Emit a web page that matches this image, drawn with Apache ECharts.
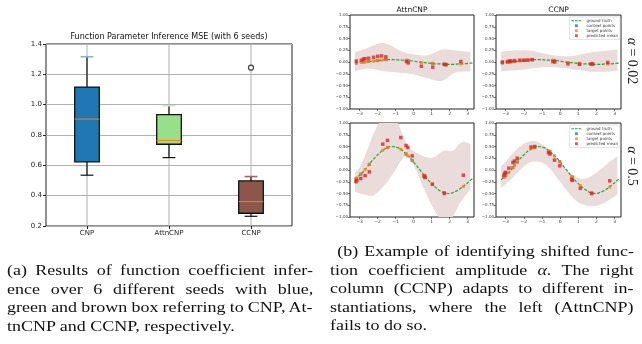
<!DOCTYPE html>
<html>
<head>
<meta charset="utf-8">
<script src="https://cdn.jsdelivr.net/npm/echarts@6.0.0/dist/echarts.min.js"></script>
<style>
  html, body { margin: 0; padding: 0; background: #fff; }
  #wrap { position: relative; width: 642px; height: 344px; overflow: hidden; }
  #chart { position: absolute; left: 0; top: 0; width: 642px; height: 344px; }
  .cap { position: absolute; font-family: 'Liberation Serif', 'Times New Roman', serif;
         font-size: 15px; line-height: 18.5px; color: #111;
         transform: scaleX(1.2); transform-origin: 0 0; }
  .cap div { white-space: nowrap; }
</style>
</head>
<body>
<div id="wrap">
  <div id="chart"></div>
  <div class="cap" style="left:7px; top:261px; width:255px;">
    <div class="j"><span>(a) Results of function coefficient infer-</span></div>
    <div class="j"><span>ence over 6 different seeds with blue,</span></div>
    <div class="j"><span>green and brown box referring to CNP, At-</span></div>
    <div><span>tnCNP and CCNP, respectively.</span></div>
  </div>
  <div class="cap" style="left:330px; top:242px; width:252.5px;">
    <div class="j" data-indent="6"><span>(b) Example of identifying shifted func-</span></div>
    <div class="j"><span>tion coefficient amplitude <i>α</i>.  The right</span></div>
    <div class="j"><span>column (CCNP) adapts to different in-</span></div>
    <div class="j"><span>stantiations, where the left (AttnCNP)</span></div>
    <div><span>fails to do so.</span></div>
  </div>
</div>
<script>
// ---------- (a) box plot data ----------
const categories = ['CNP', 'AttnCNP', 'CCNP'];
const whiskerLow = [0.535, 0.651, 0.264];
const q1 = [0.623, 0.739, 0.284];
const median = [0.905, 0.764, 0.361];
const q3 = [1.116, 0.935, 0.497];
const whiskerHigh = [1.316, 0.993, 0.526];
const outliers = [[2, 1.244]];

const boxColors = ['#1f77b4', '#98df8a', '#8c564b'];
const capColors = ['#7fb3db', '#c2ebb8', '#a9625a'];

// ---------- (b) curves data ----------
const gtX = [-3.25, -3, -2.75, -2.5, -2.25, -2, -1.75, -1.5, -1.25, -1, -0.75, -0.5, -0.25, 0,
             0.25, 0.5, 0.75, 1, 1.25, 1.5, 1.75, 2, 2.25, 2.5, 2.75, 3, 3.3];
const gtSmall = [-0.02, -0.01, 0.0, 0.01, 0.02, 0.03, 0.04, 0.05, 0.05, 0.05, 0.04, 0.04, 0.03, 0.02,
                 0.0, -0.01, -0.02, -0.03, -0.04, -0.04, -0.05, -0.05, -0.05, -0.04, -0.04, -0.03, -0.02];
const gtLarge = [-0.21, -0.11, -0.02, 0.10, 0.22, 0.32, 0.41, 0.47, 0.50, 0.49, 0.45, 0.37, 0.28, 0.17,
                 0.05, -0.07, -0.19, -0.29, -0.38, -0.45, -0.49, -0.50, -0.47, -0.42, -0.35, -0.27, -0.17];

const bandX = [-3.25, -3, -2.75, -2.5, -2.25, -2, -1.75, -1.5, -1.25, -1, -0.75, -0.5, -0.25, 0,
               0.25, 0.5, 0.75, 1, 1.25, 1.5, 1.75, 2, 2.25, 2.5, 2.75, 3, 3.15];
const upperAttnSmall = [0.22, 0.24, 0.27, 0.31, 0.35, 0.39, 0.41, 0.39, 0.35, 0.29, 0.24, 0.20, 0.18, 0.16,
                        0.15, 0.14, 0.14, 0.17, 0.22, 0.26, 0.27, 0.26, 0.25, 0.24, 0.23, 0.22, 0.22];
const lowerAttnSmall = [-0.20, -0.17, -0.15, -0.14, -0.15, -0.17, -0.19, -0.20, -0.21, -0.22, -0.23, -0.24, -0.25, -0.26,
                        -0.29, -0.32, -0.34, -0.37, -0.40, -0.41, -0.37, -0.30, -0.23, -0.21, -0.20, -0.20, -0.20];
const upperCcnpSmall = [0.22, 0.23, 0.24, 0.25, 0.25, 0.25, 0.25, 0.24, 0.21, 0.19, 0.17, 0.15, 0.14, 0.13,
                        0.12, 0.12, 0.13, 0.15, 0.17, 0.19, 0.21, 0.22, 0.23, 0.24, 0.25, 0.26, 0.27];
const lowerCcnpSmall = [-0.20, -0.19, -0.18, -0.18, -0.17, -0.16, -0.15, -0.13, -0.12, -0.11, -0.11, -0.11, -0.11, -0.12,
                        -0.13, -0.14, -0.16, -0.17, -0.18, -0.20, -0.21, -0.21, -0.21, -0.21, -0.20, -0.19, -0.19];
const upperAttnLarge = [-0.06, 0.05, 0.25, 0.50, 0.75, 0.95, 1.10, 1.20, 1.20, 1.10, 0.90, 0.65, 0.47, 0.40,
                        0.35, 0.30, 0.27, 0.25, 0.30, 0.38, 0.42, 0.40, 0.42, 0.55, 0.60, 0.58, 0.55];
const lowerAttnLarge = [-0.47, -0.50, -0.52, -0.55, -0.55, -0.48, -0.38, -0.27, -0.14, 0.00, 0.17, 0.30, 0.25, 0.10,
                        -0.10, -0.35, -0.55, -0.75, -0.92, -1.05, -1.10, -1.08, -0.95, -0.75, -0.60, -0.48, -0.42];
const upperCcnpLarge = [0.08, 0.17, 0.29, 0.40, 0.50, 0.56, 0.60, 0.62, 0.60, 0.55, 0.49, 0.40, 0.30, 0.18,
                        0.05, -0.05, -0.12, -0.17, -0.19, -0.17, -0.12, -0.06, 0.02, 0.10, 0.18, 0.25, 0.29];
const lowerCcnpLarge = [-0.38, -0.30, -0.22, -0.12, -0.02, 0.08, 0.15, 0.18, 0.18, 0.16, 0.10, 0.00, -0.12, -0.25,
                        -0.38, -0.50, -0.61, -0.69, -0.74, -0.76, -0.77, -0.76, -0.73, -0.68, -0.62, -0.56, -0.52];

// target / predicted points (x shared per panel)
const ptXSmall = [-3.18, -2.9, -2.78, -2.7, -2.5, -2.22, -1.99, -1.78, -1.54, -0.4, -0.3, 0.43, 1.06, 1.7, 1.79, 2.62];
const targetYSmall = [-0.02, -0.01, 0.0, 0.0, 0.01, 0.02, 0.03, 0.04, 0.05, 0.04, 0.03, -0.01, -0.03, -0.05, -0.05, -0.04];
const meanYAttnSmall = [0.02, 0.04, 0.06, 0.07, 0.08, 0.10, 0.12, 0.13, 0.11, 0.01, -0.02, -0.09, -0.11, -0.05, -0.06, 0.01];
const meanYCcnpSmall = [0.0, 0.01, 0.02, 0.02, 0.03, 0.04, 0.04, 0.04, 0.05, 0.01, 0.0, -0.04, -0.05, -0.04, -0.04, -0.01];

const ptXAttnLarge = [-3.2, -3.15, -2.93, -2.69, -2.46, -1.71, -1.45, -0.71, -0.42, -0.32, -0.08, 0.58, 0.63, 1.04, 1.70, 2.76];
const targetYAttnLarge = [-0.19, -0.17, -0.09, 0.01, 0.12, 0.42, 0.48, 0.44, 0.34, 0.30, 0.20, -0.11, -0.13, -0.31, -0.48, -0.35];
const meanYAttnLarge = [-0.25, -0.22, -0.18, -0.12, -0.04, 0.55, 0.63, 0.69, 0.52, 0.48, 0.30, -0.13, -0.16, -0.30, -0.50, -0.11];

const ptXCcnpLarge = [-3.09, -3.04, -3.0, -2.82, -2.6, -2.51, -2.36, -1.6, -1.4, -0.64, -0.56, -0.31, -0.02, 0.64, 0.67, 1.11, 1.73, 2.73];
const targetYCcnpLarge = [-0.15, -0.13, -0.11, -0.05, 0.05, 0.10, 0.17, 0.45, 0.48, 0.41, 0.39, 0.30, 0.18, -0.14, -0.15, -0.33, -0.49, -0.36];
const meanYCcnpLarge = [-0.11, -0.07, -0.05, 0.04, 0.16, 0.19, 0.25, 0.49, 0.50, 0.37, 0.34, 0.21, 0.09, -0.20, -0.22, -0.39, -0.50, -0.23];

const panels = [
  { gt: gtSmall, up: upperAttnSmall, lo: lowerAttnSmall, px: ptXSmall, ty: targetYSmall, my: meanYAttnSmall },
  { gt: gtSmall, up: upperCcnpSmall, lo: lowerCcnpSmall, px: ptXSmall, ty: targetYSmall, my: meanYCcnpSmall },
  { gt: gtLarge, up: upperAttnLarge, lo: lowerAttnLarge, px: ptXAttnLarge, ty: targetYAttnLarge, my: meanYAttnLarge },
  { gt: gtLarge, up: upperCcnpLarge, lo: lowerCcnpLarge, px: ptXCcnpLarge, ty: targetYCcnpLarge, my: meanYCcnpLarge }
];

const zip = (xs, ys) => xs.map((x, i) => [x, ys[i]]);
const minus = (v, d) => (v < 0 ? '\u2212' : '') + Math.abs(v).toFixed(d);

// ---------- layout ----------
const grids = [
  { left: 46, top: 44, width: 246, height: 182 },
  { left: 350, top: 15, width: 124, height: 94 },
  { left: 496, top: 15, width: 125, height: 94 },
  { left: 350, top: 123, width: 124, height: 94 },
  { left: 496, top: 123, width: 125, height: 94 }
].map(g => Object.assign(g, { show: true, borderColor: '#222', borderWidth: 1, backgroundColor: 'transparent' }));

const noLine = { show: false, onZero: false };
const xAxes = [{
  type: 'category', gridIndex: 0, data: categories,
  axisLine: noLine,
  axisTick: { show: true, alignWithLabel: true, length: 3, lineStyle: { color: '#222' } },
  axisLabel: { fontSize: 7, color: '#222', margin: 4, fontFamily: 'DejaVu Sans' },
  splitLine: { show: false }
}];
const yAxes = [{
  type: 'value', gridIndex: 0, min: 0.2, max: 1.4, interval: 0.2,
  axisLine: noLine,
  axisTick: { show: true, length: 3, lineStyle: { color: '#222' } },
  axisLabel: { fontSize: 7, color: '#222', margin: 4, fontFamily: 'DejaVu Sans', formatter: v => v.toFixed(1) },
  splitLine: { show: true, lineStyle: { color: '#b0b0b0', width: 1 } }
}];
for (let i = 1; i <= 4; i++) {
  xAxes.push({
    type: 'value', gridIndex: i, min: -3.53, max: 3.35, splitNumber: 7, position: 'bottom',
    axisLine: noLine,
    axisTick: { length: 2, lineStyle: { color: '#222', width: 0.6 } },
    axisLabel: { fontSize: 4.5, color: '#333', margin: 2.5, fontFamily: 'DejaVu Sans',
                 showMinLabel: false, showMaxLabel: false, formatter: v => minus(v, 0) },
    splitLine: { show: false }
  });
  yAxes.push({
    type: 'value', gridIndex: i, min: -1, max: 1, interval: 0.25, position: 'left',
    axisLine: noLine,
    axisTick: { length: 2, lineStyle: { color: '#222', width: 0.6 } },
    axisLabel: { fontSize: 4, color: '#333', margin: 2, fontFamily: 'DejaVu Sans', formatter: v => minus(v, 2) },
    splitLine: { show: false }
  });
}

// ---------- box plot (custom) ----------
function renderBox(params, api) {
  const i = api.value(0);
  const cs = params.coordSys;
  const x = api.coord([i, 0.8])[0];
  const hw = api.size([1, 0])[0] * 0.15;
  const cw = hw * 0.52;
  const yLo = api.coord([i, api.value(1)])[1];
  const yQ1 = api.coord([i, api.value(2)])[1];
  const yMed = api.coord([i, api.value(3)])[1];
  const yQ3 = api.coord([i, api.value(4)])[1];
  const yHi = api.coord([i, api.value(5)])[1];
  const ink = '#111';
  return {
    type: 'group',
    children: [
      { type: 'line', shape: { x1: x, y1: cs.y, x2: x, y2: cs.y + cs.height }, style: { stroke: '#b0b0b0', lineWidth: 1 } },
      { type: 'line', shape: { x1: x, y1: yLo, x2: x, y2: yQ1 }, style: { stroke: ink, lineWidth: 1.2 } },
      { type: 'line', shape: { x1: x, y1: yQ3, x2: x, y2: yHi }, style: { stroke: ink, lineWidth: 1.2 } },
      { type: 'line', shape: { x1: x - cw, y1: yLo, x2: x + cw, y2: yLo }, style: { stroke: ink, lineWidth: 1.2 } },
      { type: 'line', shape: { x1: x - cw, y1: yHi, x2: x + cw, y2: yHi }, style: { stroke: capColors[i], lineWidth: 1.6 } },
      { type: 'rect', shape: { x: x - hw, y: yQ3, width: hw * 2, height: yQ1 - yQ3 },
        style: { fill: boxColors[i], stroke: ink, lineWidth: 1.3 } },
      { type: 'line', shape: { x1: x - hw, y1: yMed, x2: x + hw, y2: yMed }, style: { stroke: '#ff7f0e', lineWidth: 1 } }
    ]
  };
}

// uncertainty band: polygon along upper edge, back along lower edge
function bandRenderer(p) {
  return function (params, api) {
    const pts = bandX.map((x, i) => api.coord([x, p.up[i]]));
    for (let i = bandX.length - 1; i >= 0; i--) pts.push(api.coord([bandX[i], p.lo[i]]));
    return { type: 'polygon', shape: { points: pts }, style: { fill: '#e9dcda' } };
  };
}

const series = [
  {
    type: 'custom', xAxisIndex: 0, yAxisIndex: 0, renderItem: renderBox,
    encode: { x: 0, y: [1, 2, 3, 4, 5] },
    data: categories.map((c, i) => [i, whiskerLow[i], q1[i], median[i], q3[i], whiskerHigh[i]]),
    silent: true, z: 2
  },
  {
    type: 'scatter', xAxisIndex: 0, yAxisIndex: 0, data: outliers,
    symbol: 'circle', symbolSize: 5,
    itemStyle: { color: '#fff', borderColor: '#111', borderWidth: 1.2 }, silent: true, z: 3
  }
];

panels.forEach((p, k) => {
  const ax = k + 1;
  series.push({
    type: 'custom', xAxisIndex: ax, yAxisIndex: ax, renderItem: bandRenderer(p),
    data: [[0, 0]], encode: { x: 0, y: 1 }, clip: true, silent: true, z: 1
  });
  series.push({
    name: 'ground truth', type: 'line', xAxisIndex: ax, yAxisIndex: ax, data: zip(gtX, p.gt),
    symbol: 'none', smooth: 0.3, lineStyle: { color: '#2ca02c', width: 1.2, type: [3, 1.6] },
    itemStyle: { color: '#2ca02c' }, silent: true, z: 3
  });
  series.push({
    name: 'context points', type: 'scatter', xAxisIndex: ax, yAxisIndex: ax,
    data: zip(p.px, p.ty).filter((d, i) => i % 2 === 0),
    symbol: 'rect', symbolSize: 3, itemStyle: { color: '#1f77b4' }, silent: true, z: 4
  });
  series.push({
    name: 'target points', type: 'scatter', xAxisIndex: ax, yAxisIndex: ax, data: zip(p.px, p.ty),
    symbol: 'rect', symbolSize: 3, itemStyle: { color: '#ff7f0e' }, silent: true, z: 5
  });
  series.push({
    name: 'predicted mean', type: 'scatter', xAxisIndex: ax, yAxisIndex: ax, data: zip(p.px, p.my),
    symbol: 'rect', symbolSize: 3.5, itemStyle: { color: '#d62728' }, silent: true, z: 6
  });
});

// legend handles: dashed line for the curve, small centred square for markers
const dashIcon = 'path://M0,1.5h2.6v1h-2.6z M3.6,1.5h2.6v1h-2.6z M7.2,1.5h2.6v1h-2.6z M0,0 M10,4';
const dotIcon = 'path://M3.6,0.6h2.8v2.8h-2.8z M0,0 M10,4';
const legendData = [
  { name: 'ground truth', icon: dashIcon },
  { name: 'context points', icon: dotIcon },
  { name: 'target points', icon: dotIcon },
  { name: 'predicted mean', icon: dotIcon }
];
const legendBase = {
  orient: 'vertical', right: 22, data: legendData, selectedMode: false,
  itemWidth: 10, itemHeight: 4, itemGap: 0.6, padding: [1.5, 2],
  backgroundColor: '#fff', borderColor: '#cccccc', borderWidth: 0.6, borderRadius: 1.5,
  textStyle: { fontSize: 4, color: '#333', fontFamily: 'DejaVu Sans', lineHeight: 4.4 }
};

const serifText = (text, x, y) => ({
  type: 'text', x: x, y: y, rotation: -Math.PI / 2,
  style: {
    text: text, fill: '#222', font: '14px "Liberation Serif"',
    align: 'center', verticalAlign: 'middle', textAlign: 'center', textVerticalAlign: 'middle',
    rich: { i: { fontStyle: 'italic', fontSize: 14, fontFamily: 'Liberation Serif' },
            n: { fontSize: 14, fontFamily: 'Liberation Serif' } }
  }
});
const sansTitle = (text, x, y, size) => ({
  type: 'text', x: x, y: y,
  style: { text: text, fill: '#111', fontSize: size, fontFamily: 'DejaVu Sans',
           align: 'center', verticalAlign: 'middle', textAlign: 'center', textVerticalAlign: 'middle' }
});

const chart = echarts.init(document.getElementById('chart'), null, { renderer: 'canvas' });
chart.setOption({
  animation: false,
  grid: grids,
  xAxis: xAxes,
  yAxis: yAxes,
  legend: [
    Object.assign({}, legendBase, { top: 17 }),
    Object.assign({}, legendBase, { top: 125 })
  ],
  graphic: [
    sansTitle('Function Parameter Inference MSE (with 6 seeds)', 169, 37, 8),
    sansTitle('AttnCNP', 412, 10, 7.5),
    sansTitle('CCNP', 558.5, 10, 7.5),
    serifText('{i|α}{n| = 0.02}', 632, 61),
    serifText('{i|α}{n| = 0.5}', 632, 166)
  ],
  series: series
});

// justify caption lines by spreading (or tightening) word spacing
document.querySelectorAll('.cap .j').forEach(line => {
  const span = line.querySelector('span');
  const indent = +(line.dataset.indent || 0);
  span.style.display = 'inline-block';
  span.style.marginLeft = indent + 'px';
  const avail = line.parentElement.clientWidth - indent;
  const natural = span.offsetWidth;
  const spaces = (span.textContent.match(/ +/g) || []).length;
  if (spaces > 0) span.style.wordSpacing = ((avail - natural) / spaces) + 'px';
});
</script>
</body>
</html>
